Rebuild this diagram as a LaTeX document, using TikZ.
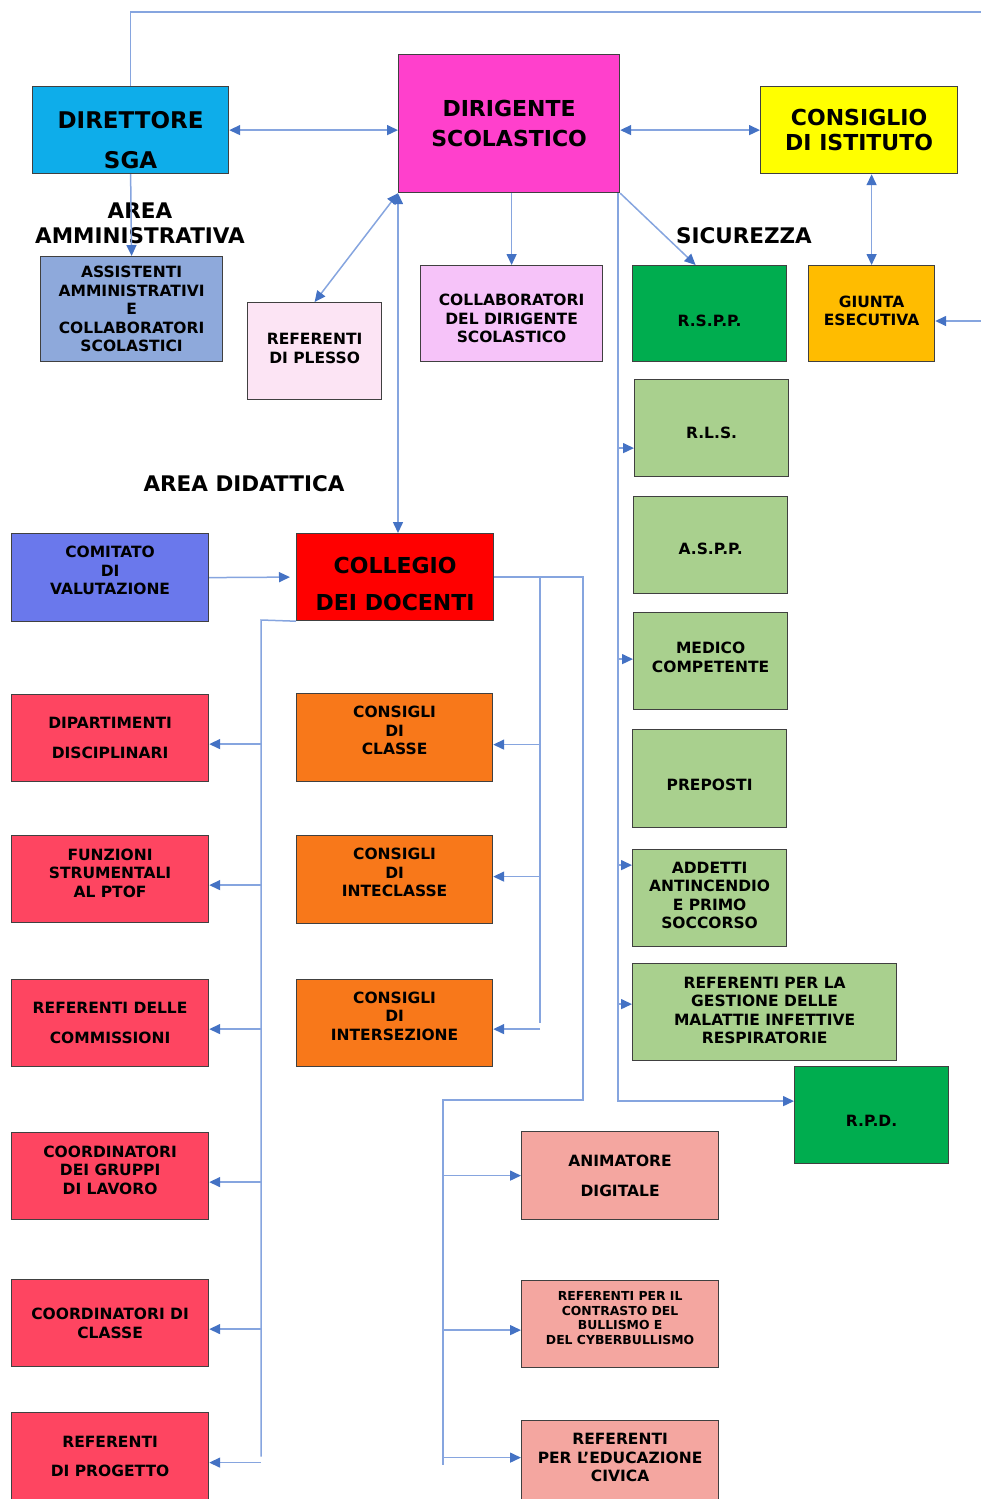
\documentclass[tikz,border=0pt]{standalone}
\usepackage{fontspec}
\setmainfont{DejaVu Sans}
\usetikzlibrary{arrows.meta}

\definecolor{boxline}{HTML}{404040}
\definecolor{linkblue}{HTML}{86A5DF}
\definecolor{tipblue}{HTML}{4472C4}
\definecolor{cdsga}{HTML}{0EADEA}
\definecolor{cdir}{HTML}{FF40CC}
\definecolor{cci}{HTML}{FFFF00}
\definecolor{cass}{HTML}{8EA9DB}
\definecolor{cplesso}{HTML}{FCE4F4}
\definecolor{ccollab}{HTML}{F6C3F9}
\definecolor{cgreen}{HTML}{00AD4F}
\definecolor{cgiunta}{HTML}{FFBC00}
\definecolor{clight}{HTML}{A9D08E}
\definecolor{ccomit}{HTML}{6A78EC}
\definecolor{ccoll}{HTML}{FF0000}
\definecolor{cred}{HTML}{FE4561}
\definecolor{corange}{HTML}{F8781A}
\definecolor{csalmon}{HTML}{F4A6A0}

% push the text of a box down (\sink, first line) or up (\lift, last line) by half the argument
\newcommand\sink[1]{\rule{0pt}{\dimexpr\fontcharht\font`O+#1\relax}}
\newcommand\lift[1]{\rule[-#1]{0pt}{#1}}

\begin{document}
\begin{tikzpicture}[x=1pt,y=-1pt,
  >={Triangle[length=11pt,width=10pt,color=tipblue]},
  box/.style 2 args={draw=boxline,line width=1.2pt,anchor=north west,inner sep=0pt,
    minimum width=#1pt,minimum height=#2pt,align=center,
    font=\fontsize{15.5}{18.5}\selectfont\bfseries},
  big/.style={font=\fontsize{22}{30}\selectfont\bfseries},
  lbl/.style={font=\fontsize{21.5}{25}\selectfont\bfseries,align=center},
  conn/.style={draw=linkblue,line width=1.5pt},
  arr/.style={conn,->},
  darr/.style={conn,<->}]
\useasboundingbox (0,0) rectangle (981,1499);

\node[box={196}{87},fill=cdsga,font=\fontsize{23}{30}\selectfont\bfseries] (dsga) at (32,86) {\sink{20pt}DIRETTORE\\[10pt]SGA};
\node[box={221}{138},fill=cdir,big] (dir) at (398,54) {DIRIGENTE\\SCOLASTICO};
\node[box={197}{87},fill=cci,font=\fontsize{22}{25}\selectfont\bfseries] (ci) at (760,86) {CONSIGLIO\\DI ISTITUTO};
\node[lbl] (aamm) at (140,223) {AREA\\AMMINISTRATIVA};
\node[box={182}{105},fill=cass] (ass) at (40,256) {ASSISTENTI\\AMMINISTRATIVI\\E\\COLLABORATORI\\SCOLASTICI};
\node[box={134}{97},fill=cplesso] (plesso) at (247,302) {REFERENTI\\DI PLESSO\lift{6pt}};
\node[box={182}{96},fill=ccollab] (collab) at (420,265) {\sink{10pt}COLLABORATORI\\DEL DIRIGENTE\\SCOLASTICO};
\node[lbl] (sic) at (744,236) {SICUREZZA};
\node[box={154}{96},fill=cgreen] (rspp) at (632,265) {\sink{14pt}R.S.P.P.};
\node[box={126}{96},fill=cgiunta] (giunta) at (808,265) {GIUNTA\\ESECUTIVA\lift{6pt}};
\node[box={154}{97},fill=clight] (rls) at (634,379) {\sink{10pt}R.L.S.};
\node[box={154}{97},fill=clight] (aspp) at (633,496) {\sink{8pt}A.S.P.P.};
\node[box={154}{97},fill=clight] (medico) at (633,612) {MEDICO\\COMPETENTE\lift{8pt}};
\node[box={154}{98},fill=clight] (prep) at (632,729) {\sink{12pt}PREPOSTI};
\node[box={154}{97},fill=clight] (addetti) at (632,849) {ADDETTI\\ANTINCENDIO\\E PRIMO\\SOCCORSO\lift{6pt}};
\node[box={264}{97},fill=clight] (malattie) at (632,963) {REFERENTI PER LA\\GESTIONE DELLE\\MALATTIE INFETTIVE\\RESPIRATORIE\lift{4pt}};
\node[box={154}{97},fill=cgreen] (rpd) at (794,1066) {\sink{12pt}R.P.D.};

\node[lbl] (adid) at (244,484) {AREA DIDATTICA};
\node[box={197}{88},fill=ccomit] (comit) at (11,533) {COMITATO\\DI\\VALUTAZIONE\lift{14pt}};
\node[box={197}{87},fill=ccoll,font=\fontsize{22}{37}\selectfont\bfseries] (coll) at (296,533) {\sink{14pt}COLLEGIO\\DEI DOCENTI};

\node[box={197}{87},fill=cred] (dip) at (11,694) {DIPARTIMENTI\\[11pt]DISCIPLINARI};
\node[box={197}{87},fill=cred] (funz) at (11,835) {FUNZIONI\\STRUMENTALI\\AL PTOF\lift{12pt}};
\node[box={197}{87},fill=cred] (refcomm) at (11,979) {REFERENTI DELLE\\[12pt]COMMISSIONI};
\node[box={197}{87},fill=cred] (coordgr) at (11,1132) {COORDINATORI\\DEI GRUPPI\\DI LAVORO\lift{12pt}};
\node[box={197}{87},fill=cred] (coordcl) at (11,1279) {COORDINATORI DI\\CLASSE};
\node[box={197}{88},fill=cred] (refprog) at (11,1412) {REFERENTI\\[11pt]DI PROGETTO};

\node[box={196}{88},fill=corange] (ccl) at (296,693) {CONSIGLI\\DI\\CLASSE\lift{14pt}};
\node[box={196}{88},fill=corange] (cint) at (296,835) {CONSIGLI\\DI\\INTECLASSE\lift{14pt}};
\node[box={196}{87},fill=corange] (cinter) at (296,979) {CONSIGLI\\DI\\INTERSEZIONE\lift{14pt}};

\node[box={197}{88},fill=csalmon] (anim) at (521,1131) {ANIMATORE\\[11pt]DIGITALE};
\node[box={197}{87},fill=csalmon,font=\fontsize{12.4}{14.7}\selectfont\bfseries] (bull) at (521,1280) {REFERENTI PER IL\\CONTRASTO DEL\\BULLISMO E\\DEL CYBERBULLISMO\lift{12pt}};
\node[box={197}{88},fill=csalmon] (educ) at (521,1420) {REFERENTI\\PER L’EDUCAZIONE\\CIVICA\lift{14pt}};

\coordinate (topr) at (981,12);
\coordinate (giuntain) at (981,321);
\coordinate (sictop) at ([xshift=-2pt]dir.south east);
\coordinate (rpdin) at ([yshift=14pt]rpd.west);
\coordinate (lbus) at (261,620);
\coordinate (cbus) at (540,578);
\coordinate (rbus) at (583,1100);
\coordinate (dbus) at (443,1100);

\draw[conn] (dsga.north) -- (dsga.north |- topr) -- (topr);
\draw[darr] (dsga.east) -- (dsga.east -| dir.west);
\draw[darr] (dir.east |- ci.west) -- (ci.west);
\draw[arr] (dsga.south) -- (ass.north);
\draw[darr] (giunta.north |- ci.south) -- (giunta.north);
\draw[arr] (giuntain) -- (giunta.east |- giuntain);
\draw[darr] (dir.south west) -- (plesso.north);
\draw[darr] (dir.south west) -- (dir.south west |- coll.north);
\draw[arr] (collab.north |- dir.south) -- (collab.north);
\draw[arr] (dir.south east) -- ([xshift=-14pt]rspp.north);

\draw[arr] (sictop) -- (sictop |- rpdin) -- (rpdin);
\foreach \n/\d in {rls/-20,medico/2,addetti/33,malattie/8}{
  \coordinate (t) at ([yshift=\d pt]\n.west);
  \draw[arr] (sictop |- t) -- (t);
}

\draw[arr] (comit.east) -- ([xshift=-6pt]coll.west);

\draw[conn] (coll.south west) -- (lbus) -- (lbus |- refprog.east);
\foreach \n in {dip,funz,refcomm,coordgr,coordcl,refprog}{
  \coordinate (t) at ([yshift=-6pt]\n.east);
  \draw[arr] (lbus |- t) -- (t);
}

\draw[conn] (coll.east) -- (coll.east -| rbus) -- (rbus) -- (dbus) -- (dbus |- educ.west);
\draw[conn] (cbus) -- (cbus |- cinter.east);
\foreach \n/\d in {ccl/-7,cint/3,cinter/-6}{
  \coordinate (t) at ([yshift=\d pt]\n.east);
  \draw[arr] (cbus |- t) -- (t);
}
\foreach \n/\d in {anim/0,bull/-6,educ/7}{
  \coordinate (t) at ([yshift=\d pt]\n.west);
  \draw[arr] (dbus |- t) -- (t);
}
\end{tikzpicture}
\end{document}
